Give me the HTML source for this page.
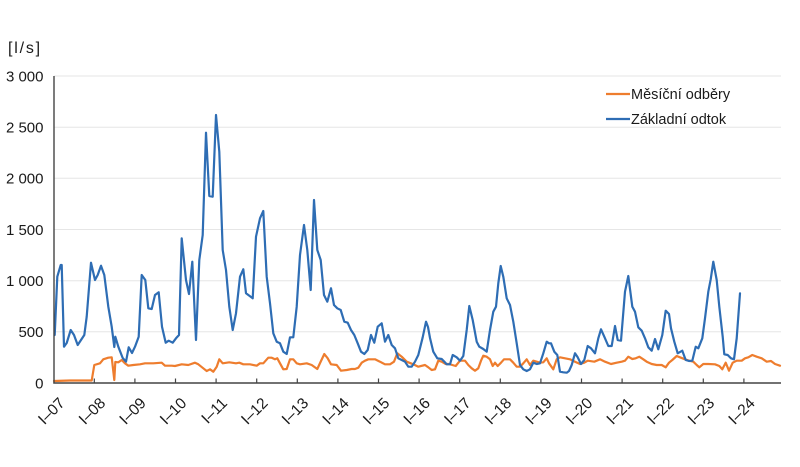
<!DOCTYPE html>
<html>
<head>
<meta charset="utf-8">
<style>
  html, body { margin: 0; padding: 0; background: #ffffff; }
  body { width: 800px; height: 467px; overflow: hidden; }
  svg { display: block; }
  text { font-family: "Liberation Sans", "DejaVu Sans", sans-serif; fill: #1a1a1a; }
</style>
</head>
<body>
<svg width="800" height="467" viewBox="0 0 800 467" xmlns="http://www.w3.org/2000/svg">
  <rect width="800" height="467" fill="#ffffff"/>

  <!-- unit label -->
  <text x="8" y="53" font-size="16" letter-spacing="1.8">[l/s]</text>

  <!-- gridlines -->
  <g stroke="#e6e6e6" stroke-width="1">
    <line x1="54" y1="76" x2="781" y2="76"/>
    <line x1="54" y1="127.2" x2="781" y2="127.2"/>
    <line x1="54" y1="178.3" x2="781" y2="178.3"/>
    <line x1="54" y1="229.5" x2="781" y2="229.5"/>
    <line x1="54" y1="280.7" x2="781" y2="280.7"/>
    <line x1="54" y1="331.8" x2="781" y2="331.8"/>
  </g>

  <!-- y labels -->
  <g font-size="15" text-anchor="end">
    <text x="43.5" y="81.4">3 000</text>
    <text x="43.5" y="132.6">2 500</text>
    <text x="43.5" y="183.7">2 000</text>
    <text x="43.5" y="234.9">1 500</text>
    <text x="43.5" y="286.1">1 000</text>
    <text x="43.5" y="337.2">500</text>
    <text x="43.5" y="388.4">0</text>
  </g>

  <!-- series: orange -->
  <polyline fill="none" stroke="#ee7d2e" stroke-width="2.2" stroke-linejoin="round" stroke-linecap="round" points="
54,381 70,380.5 80,380.5 91.7,380.5 94.3,365 100,363.3 103.3,359.3 108.3,357.7 111.7,357.3 114.3,380 115.3,362 118.3,362.3 121.7,360 125,363.3 128.3,365.7 133.3,365 140,364.3 145,363.3 153.3,363.3 161.7,362.7 165,365.7 171.7,365.7 175,366 181.7,364.3 188.3,365 195,362.7 198.3,364.3 203.3,368.3 206.7,371 210,369.3 213.3,371.7 216.7,366.7 219.3,359.3 222.7,363.3 229.3,362.3 236,363.3 239.3,362.7 243.3,364.3 250,364.3 256.7,365.7 260,363.3 263.3,363.3 268.3,357.7 271.7,357.7 275,359.3 277.3,358.3 280,363.3 283.3,369.3 286.7,369 290,359.3 293.3,359.3 296.7,363.3 300,364.3 306.7,363.3 311.7,365 317.3,369 321,361 324.3,354 327.7,358.3 331,364.3 336.7,365 341,370.7 346.7,370 351.7,369 355,369 358.3,367.7 361.7,362.7 365,360.7 368.3,359.3 375,359.3 380,361.7 385,364.3 390,364.3 394,361.7 397.3,353.3 401.7,356.7 406.7,361.7 413.3,364.3 418.3,366.7 425,365 428.3,367.3 431.7,370 435,369.3 438.3,360.7 441.7,361.7 445.7,364 449,364 452.3,365 455.7,366 460,360.7 465,360.7 468.3,365 471.7,368.3 475,370.7 478.3,368.3 481,360.7 483.3,355.7 486.7,356.7 490,359.3 492.7,366 495,362.7 497.7,366 501,362.7 504,359.3 510,359.3 513.3,362.7 516.7,366.7 520,366.7 523.3,363.3 526.7,359.3 530,365 533.3,360.7 536.7,361.7 540,362.7 543.3,362.3 546.7,358.3 549,363.3 553.3,369.3 556.7,359.3 560,357.3 565,358.3 570,359.3 575,361.7 580,364 584.3,362.7 587.7,360.7 594.3,361.7 600,359.3 605,361.7 611,364 616.7,362.7 621.7,361.7 625,360.7 628.3,356.7 632.3,359 635.7,358.3 639.3,356.7 643.3,359.3 646.7,361.7 651.7,364 656.7,365 661.7,365 665.7,367.3 669,362.7 672.3,360 676.7,356 680,357.3 685,359.3 689,360.7 693.3,361.7 696.7,365 699.3,367.3 703.3,364 708.3,364 715,364.3 719.3,366 722.3,369.3 725.7,362.7 729,370.7 732.7,362.7 736.7,360.7 741.7,360.7 745,358.3 748.3,357.3 752.3,355 756.7,356.7 761.7,358.3 766.7,361.7 771,361 775,364 780,365.7"/>

  <!-- series: blue -->
  <polyline fill="none" stroke="#2e6db4" stroke-width="2.2" stroke-linejoin="round" stroke-linecap="round" points="
54.7,335 57.3,276.7 60.7,265 61.7,265 64,346.7 66.7,343 70.7,330 74,335 77.7,345 84.3,335 86.7,316.7 91,262.7 95,280 97.7,275 101,265.7 104.3,275 108.3,306.7 111.7,326.7 114.3,347 115.3,336.7 118.3,346.7 122.7,358 126,361.7 128.7,347.3 132,353 135,346.7 138.7,336.7 141.7,275 145.3,280 148.3,308.3 151.7,309 155,295 158.7,292.3 162,326.7 165.7,342.7 168.7,340.7 172.7,342.7 176,338.3 179,335 181.7,238.3 186,280 189,294 192.3,261.7 196,340 199.3,260 202.7,235 206,132.7 209.3,196 212.7,196.7 216,115 219.3,151.7 222.7,250 226,270 229.3,306.7 232.7,330 236,313.3 240,276.7 243.3,269.3 246,293.3 252.7,298.3 256,236.7 260,218.3 263.3,211 266.7,276.7 270,303.3 273.3,333.3 276.7,341.7 280,343.3 283.3,351.7 286.7,354 290,337.3 293.3,337.3 296.7,306.7 300,255 304,225 307.3,250 310.7,290 314,200 317.3,250 320.7,260 324,295 327.3,301.7 331,288.3 334,305 337.3,308.3 340.7,310 344.3,321.7 347.7,322.7 351,330 354.3,335 357.7,343.3 361,351.7 364.3,354 367.7,350 371,335 374.3,342.7 377.7,326.7 381.7,323.3 385,341.7 388.3,335 391.7,345 395,348.3 398.3,358.3 401.7,360 405,361.7 408.3,366.7 411.7,366.7 415,361.7 418.3,355 422.7,337.3 426,321.7 428,327 430,338 433.3,351.7 437.3,358.3 441.7,359 444.3,361.7 446.7,364.3 450,364.3 452.7,355 456.7,357.3 460,360.7 463.3,356 466.7,330 469.3,306 472.7,320 476.7,341.7 479.3,346.7 483.3,349 486.7,351.7 490,330 493.3,311.7 496,306.7 498.3,283.3 500.7,266 503.3,276.7 506.7,298.3 510,305 513.3,321.7 516.7,343.3 520,365 523.3,369.3 526.7,371 530,369.3 533.3,362.7 536.7,364 540,363.3 543.3,353.3 546.7,341.7 549,343.3 551,343.3 554.3,351.7 557.3,355 560,371.7 563.3,372.3 566.7,372.7 569,371 571.7,365 575,353.3 577.7,357.3 581,364 584.3,360 587.7,346 591,348.3 595,353.3 598.3,338.3 601,329.3 604.3,336.7 608.3,346 611.7,346 615,326 617.7,340 621,340.7 625,291.7 628.3,276 632.3,306.7 635,311.7 638.3,327.3 641.7,330.7 645,338.3 648.3,347.3 651.7,350.7 655,339 658.3,349.3 662.3,335 665.7,310.7 669,314 671,328.3 674.3,341.7 677.7,353.3 682.3,350.7 685.7,360 689,361 692.3,360.7 695.7,346.7 698.3,348.3 702.3,338.3 705,318.3 708.3,291.7 710.7,279.3 713.3,261.7 716.7,280 719.3,306.7 722.7,336.7 724.3,354.3 727.7,355 731,358.3 734,359.3 736.7,338.3 740,293.3"/>

  <!-- axes -->
  <g stroke="#444444" stroke-width="1.4">
    <line x1="54" y1="76" x2="54" y2="383.5"/>
    <line x1="53.3" y1="383" x2="781" y2="383"/>
  </g>
  <!-- x ticks -->
  <g stroke="#444444" stroke-width="1.2">
    <line x1="94.3" y1="378.5" x2="94.3" y2="383"/>
    <line x1="134.9" y1="378.5" x2="134.9" y2="383"/>
    <line x1="175.5" y1="378.5" x2="175.5" y2="383"/>
    <line x1="216.1" y1="378.5" x2="216.1" y2="383"/>
    <line x1="256.7" y1="378.5" x2="256.7" y2="383"/>
    <line x1="297.3" y1="378.5" x2="297.3" y2="383"/>
    <line x1="337.9" y1="378.5" x2="337.9" y2="383"/>
    <line x1="378.5" y1="378.5" x2="378.5" y2="383"/>
    <line x1="419.1" y1="378.5" x2="419.1" y2="383"/>
    <line x1="459.7" y1="378.5" x2="459.7" y2="383"/>
    <line x1="500.3" y1="378.5" x2="500.3" y2="383"/>
    <line x1="540.9" y1="378.5" x2="540.9" y2="383"/>
    <line x1="581.5" y1="378.5" x2="581.5" y2="383"/>
    <line x1="622.1" y1="378.5" x2="622.1" y2="383"/>
    <line x1="662.7" y1="378.5" x2="662.7" y2="383"/>
    <line x1="703.3" y1="378.5" x2="703.3" y2="383"/>
    <line x1="743.9" y1="378.5" x2="743.9" y2="383"/>
  </g>

  <!-- x labels -->
  <g font-size="15.5" text-anchor="end">
    <text transform="translate(65.7,404) rotate(-45)">I–07</text>
    <text transform="translate(106.3,404) rotate(-45)">I–08</text>
    <text transform="translate(146.9,404) rotate(-45)">I–09</text>
    <text transform="translate(187.5,404) rotate(-45)">I–10</text>
    <text transform="translate(228.1,404) rotate(-45)">I–11</text>
    <text transform="translate(268.7,404) rotate(-45)">I–12</text>
    <text transform="translate(309.3,404) rotate(-45)">I–13</text>
    <text transform="translate(349.9,404) rotate(-45)">I–14</text>
    <text transform="translate(390.5,404) rotate(-45)">I–15</text>
    <text transform="translate(431.1,404) rotate(-45)">I–16</text>
    <text transform="translate(471.7,404) rotate(-45)">I–17</text>
    <text transform="translate(512.3,404) rotate(-45)">I–18</text>
    <text transform="translate(552.9,404) rotate(-45)">I–19</text>
    <text transform="translate(593.5,404) rotate(-45)">I–20</text>
    <text transform="translate(634.1,404) rotate(-45)">I–21</text>
    <text transform="translate(674.7,404) rotate(-45)">I–22</text>
    <text transform="translate(715.3,404) rotate(-45)">I–23</text>
    <text transform="translate(755.9,404) rotate(-45)">I–24</text>
  </g>

  <!-- legend -->
  <line x1="606" y1="94" x2="630" y2="94" stroke="#ee7d2e" stroke-width="2.2"/>
  <text x="631" y="99" font-size="14.5">Měsíční odběry</text>
  <line x1="606" y1="119" x2="630" y2="119" stroke="#2e6db4" stroke-width="2.2"/>
  <text x="631" y="124" font-size="14.5">Základní odtok</text>
</svg>
</body>
</html>
